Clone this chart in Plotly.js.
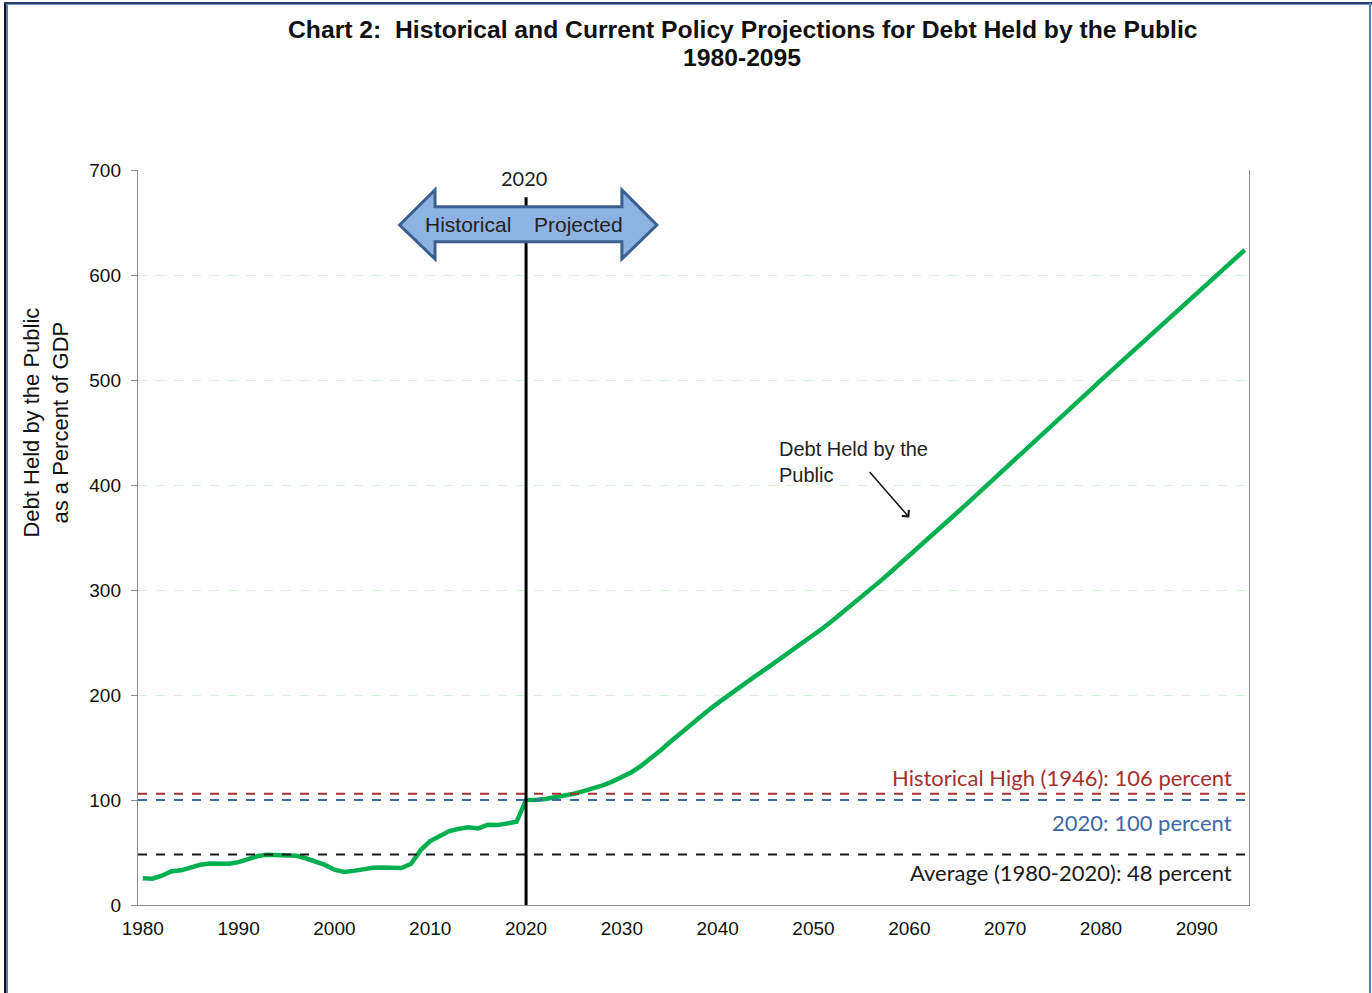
<!DOCTYPE html>
<html>
<head>
<meta charset="utf-8">
<script src="https://cdn.plot.ly/plotly-3.0.1.min.js"></script>
<style>
  html, body { margin: 0; padding: 0; background: #fff; }
  #wrap { position: relative; width: 1372px; height: 993px; overflow: hidden; }
  #chart { position: absolute; left: 0; top: 0; width: 1372px; height: 993px; }
  .b { position: absolute; }
</style>
</head>
<body>
<div id="wrap">
  <div id="chart"></div>
  <div class="b" style="left:4px;top:3px;width:2px;height:990px;background:#111;"></div>
  <div class="b" style="left:6px;top:3px;width:2px;height:990px;background:#4f81bd;"></div>
  <div class="b" style="left:4px;top:2px;width:1368px;height:2px;background:#2a3f5f;"></div>
  <div class="b" style="left:6px;top:4px;width:1366px;height:1px;background:#6d94c6;"></div>
  <div class="b" style="left:1369px;top:3px;width:2px;height:990px;background:#4f81bd;"></div>
</div>
<script>
// Historical years and debt (% of GDP)
const histYears = [1980,1981,1982,1983,1984,1985,1986,1987,1988,1989,
  1990,1991,1992,1993,1994,1995,1996,1997,1998,1999,
  2000,2001,2002,2003,2004,2005,2006,2007,2008,2009,
  2010,2011,2012,2013,2014,2015,2016,2017,2018,2019,2020];
const histDebt = [25.4,25.0,27.9,32.2,33.0,35.5,38.3,39.5,39.9,39.3,
  40.8,44.0,46.6,47.8,47.7,47.5,46.8,44.5,41.6,38.2,
  33.6,31.4,32.5,34.5,35.5,35.6,35.3,35.2,39.3,52.3,
  60.9,65.9,70.4,72.6,74.1,72.9,76.4,76.1,77.6,79.2,100.1];

// Projected years and debt (% of GDP)
const projYears = [2021,2022,2023,2024,2025,2026,2027,2028,2029,
  2030,2031,2032,2033,2034,2035,2036,2037,2038,2039,
  2040,2041,2042,2043,2044,2045,2046,2047,2048,2049,
  2050,2051,2052,2053,2054,2055,2056,2057,2058,2059,
  2060,2061,2062,2063,2064,2065,2066,2067,2068,2069,
  2070,2071,2072,2073,2074,2075,2076,2077,2078,2079,
  2080,2081,2082,2083,2084,2085,2086,2087,2088,2089,
  2090,2091,2092,2093,2094,2095];
const projDebt = [100.0,101.0,102.5,104.0,106.0,108.5,111.0,114.0,117.5,
  121.5,126.5,132.5,139.5,147.0,155.0,162.8,170.5,178.0,185.3,
  192.3,199.1,205.7,212.1,218.4,224.7,231.0,237.3,243.7,250.2,
  256.9,263.8,270.9,278.2,285.7,293.0,300.8,308.7,316.7,324.7,
  332.7,340.9,349.1,357.3,365.5,373.8,382.1,390.4,398.7,407.0,
  415.3,423.8,432.3,440.8,449.3,457.8,466.2,474.6,483.0,491.4,
  499.8,508.1,516.4,524.7,533.0,541.3,549.6,557.9,566.2,574.5,
  582.8,591.0,599.2,607.4,615.6,623.8];

// Reference lines
const refLabels = ["Historical High (1946): 106 percent", "2020: 100 percent", "Average (1980-2020): 48 percent"];
const refValues = [106, 100, 48];
const refColors = ["#a5302f", "#3f68a6", "#1a1a1a"];
const refLabelY = [121, 79, 30.5];

const dividerYear = 2020;
const xTicks = [1980,1990,2000,2010,2020,2030,2040,2050,2060,2070,2080,2090];
const yTicks = [0,100,200,300,400,500,600,700];

const years = histYears.concat(projYears);
const debt = histDebt.concat(projDebt);

const ARIAL = "Arial, 'Liberation Sans', sans-serif";
const CAL = "Lato, 'Noto Sans', sans-serif";

const shapes = [];
refValues.forEach((v, i) => {
  shapes.push({type:'line', xref:'paper', x0:0, x1:1, yref:'y', y0:v, y1:v,
    line:{color:refColors[i], width:2, dash:'dash'}, layer:'above'});
});
shapes.push({type:'line', xref:'x', x0:dividerYear, x1:dividerYear, yref:'y', y0:0, y1:674,
  line:{color:'#000', width:3}, layer:'above'});
// double arrow (Historical <-> Projected)
const ax = [2006.8, 2010.5, 2030.0, 2033.65];
const ay = [681, 665, 647.6, 631.7, 615.2];
shapes.push({type:'path', xref:'x', yref:'y',
  path: `M ${ax[0]},${ay[2]} L ${ax[1]},${ay[0]} L ${ax[1]},${ay[1]} L ${ax[2]},${ay[1]} L ${ax[2]},${ay[0]} L ${ax[3]},${ay[2]} L ${ax[2]},${ay[4]} L ${ax[2]},${ay[3]} L ${ax[1]},${ay[3]} L ${ax[1]},${ay[4]} Z`,
  fillcolor:'#8db3e2', line:{color:'#3b5f8f', width:3}, layer:'above'});

const annotations = [];
annotations.push({text:'<b>Chart 2:  Historical and Current Policy Projections for Debt Held by the Public</b>',
  xref:'paper', x:0.5437, yref:'paper', y:1.1905, yanchor:'middle', showarrow:false,
  font:{family:ARIAL, size:24.7, color:'#111'}});
annotations.push({text:'<b>1980-2095</b>',
  xref:'paper', x:0.5437, yref:'paper', y:1.1524, yanchor:'middle', showarrow:false,
  font:{family:ARIAL, size:24.7, color:'#111'}});
refLabels.forEach((t, i) => {
  annotations.push({text:t, xref:'paper', x:0.9865, xanchor:'right', yref:'y', y:refLabelY[i],
    yanchor:'middle', showarrow:false, font:{family:CAL, size:22, color:refColors[i]}});
});
annotations.push({text:'2020', xref:'x', x:dividerYear - 0.2, yref:'y', y:692, showarrow:false,
  font:{family:CAL, size:20, color:'#222'}});
annotations.push({text:'Historical', xref:'x', x:2013.9, yref:'y', y:648, showarrow:false,
  font:{family:ARIAL, size:21, color:'#222'}});
annotations.push({text:'Projected', xref:'x', x:2025.5, yref:'y', y:648, showarrow:false,
  font:{family:ARIAL, size:21, color:'#222'}});
annotations.push({text:'Debt Held by the<br>Public', xref:'x', x:2046.2, xanchor:'left', yref:'y', y:422,
  align:'left', showarrow:false, font:{family:ARIAL, size:20, color:'#222'}});
annotations.push({text:'', xref:'x', x:2060, yref:'y', y:369, showarrow:true, arrowhead:4, arrowsize:1.2,
  arrowwidth:1.5, arrowcolor:'#111', ax:-41, ay:-47});
annotations.push({text:'Debt Held by the Public<br>as a Percent of GDP', xref:'paper', x:-0.1085, yref:'paper', y:0.657,
  textangle:-90, showarrow:false, font:{family:ARIAL, size:22, color:'#111'}});

const trace = {x: years, y: debt, type:'scatter', mode:'lines',
  line:{color:'#00b050', width:4.5}, hoverinfo:'x+y', showlegend:false};

const layout = {
  width:1372, height:993,
  margin:{l:138, r:123, t:170, b:88},
  paper_bgcolor:'#fff', plot_bgcolor:'#fff',
  xaxis:{range:[1979.5, 2095.45], tickvals:xTicks, ticktext:xTicks.map(String), showgrid:false, zeroline:false,
    showline:true, linecolor:'#8c8c8c', linewidth:1.2, ticks:'', ticklabelstandoff:6,
    tickfont:{family:ARIAL, size:19, color:'#111'}},
  yaxis:{range:[0,700], tickvals:yTicks, showgrid:true, gridcolor:'#d4f5d4', griddash:'dash', gridwidth:1,
    zeroline:false, showline:true, linecolor:'#8c8c8c', linewidth:1.2, mirror:true,
    ticks:'outside', ticklen:6, tickcolor:'#8c8c8c', ticklabelstandoff:6,
    tickfont:{family:ARIAL, size:19, color:'#111'}},
  shapes: shapes,
  annotations: annotations
};

Plotly.newPlot('chart', [trace], layout, {displayModeBar:false, staticPlot:true});
</script>
</body>
</html>
